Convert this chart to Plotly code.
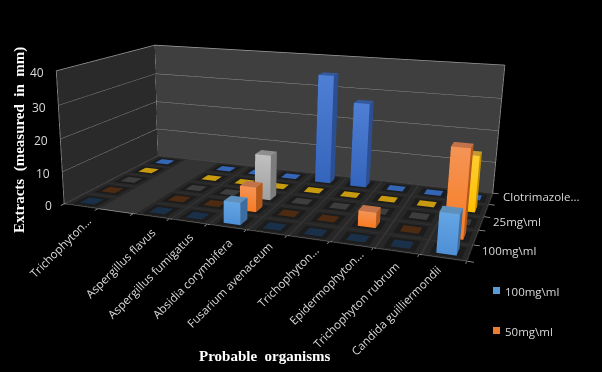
import plotly.graph_objects as go

categories = ["Trichophyton...", "", "Aspergillus flavus", "Aspergillus fumigatus", "Absidia corymbifera",
              "Fusarium avenaceum", "Trichophyton...", "Epidermophyton...", "Trichophyton rubrum", "Candida guilliermondii"]
series_names = ["100mg\\ml", "50mg\\ml", "25mg\\ml", "12.5mg\\ml", "Clotrimazole..."]
values_100 = [0, None, 0, 0, 6.5, 0, 0, 0, 0, 11]
values_50 = [0, None, 0, 0, 7.5, 0, 0, 4.5, 0, 25]
values_25 = [0, None, 0, 0, 14, 0, 0, 0, 0, 0]
values_12 = [0, None, 0, 0, 0, 0, 0, 0, 0, 17]
values_clo = [0, None, 0, 0, 0, 35, 27, 0, 0, 0]
all_values = [values_100, values_50, values_25, values_12, values_clo]
z_ticks = [0, 10, 20, 30, 40]

# The figure is larger than the window and shifted so that the fixed 45-degree
# plotly camera gets the long focal length of the reference's perspective.
W, H = 960, 692
LEFT, TOP = -252, -167
def px(x): return (x - LEFT) / W
def py(y): return 1 - (y - TOP) / H

EYE = (1.072, -3.146, 0.796)
CEN = (0.068, -0.752, 0.025)
UP = (0.026, -0.036, 1)
ASP = (1.6, 0.828, 0.546)
XR, YR, ZR = (-0.2, 10.2), (-0.2, 5.2), (-1, 41)

fig = go.Figure()
light = dict(ambient=1, diffuse=0, specular=0, fresnel=0, roughness=1)
def quad_mesh(xs, ys, zs, color):
    return go.Mesh3d(x=xs, y=ys, z=zs, i=[0, 0], j=[1, 2], k=[2, 3], color=color, flatshading=True,
                     lighting=light, hoverinfo="skip", showlegend=False)

fig.add_trace(quad_mesh([0,0,0,0],[0,5,5,0],[0,0,40,40],"#2a2a2a"))
fig.add_trace(quad_mesh([0,10,10,0],[5,5,5,5],[0,0,40,40],"#3f3f3f"))
fig.add_trace(quad_mesh([0,10,10,0],[0,0,5,5],[0,0,0,0],"#333333"))

lx, ly, lz = [], [], []
def seg(a, b):
    lx.extend([a[0], b[0], None]); ly.extend([a[1], b[1], None]); lz.extend([a[2], b[2], None])
for t in z_ticks:
    seg((0,0,t),(0,5,t)); seg((0,5,t),(10,5,t))
seg((0,0,0),(0,0,40)); seg((0,5,0),(0,5,40)); seg((10,5,0),(10,5,40))
seg((0,0,0),(10,0,0)); seg((10,0,0),(10,5,0))
for i in range(11):
    seg((i,0,0),(i,-0.15,0))
for j in range(6):
    seg((10,j,0),(10.15,j,0))
fig.add_trace(go.Scatter3d(x=lx,y=ly,z=lz,mode="lines",line=dict(color="#a0a0a0",width=1.5),hoverinfo="skip",showlegend=False))

colors = [
 dict(front_top="#64a5e4", front_bot="#4f8fd6", side="#3d6d9e", top="#5f8fbb", flat="#1a3048"),
 dict(front_top="#f49455", front_bot="#f97b22", side="#b4591c", top="#c2734a", flat="#4d2a12"),
 dict(front_top="#c0c0c0", front_bot="#a0a0a0", side="#7c7c7c", top="#8e8e8e", flat="#3d3d3d"),
 dict(front_top="#ffcc30", front_bot="#fdc000", side="#c09000", top="#c49a30", flat="#c79a10"),
 dict(front_top="#4f7fd4", front_bot="#3465bc", side="#2b4f92", top="#355a9c", flat="#3565b5"),
]
halo = [("#272727", 0.26, 0.03), ("#1c1c1c", 0.13, 0.06)]
zflat = 0.1
for r, (vals, col) in enumerate(zip(all_values, colors)):
    X, Y, Z, VC, I, J, K = [], [], [], [], [], [], []
    def face(pts, cs):
        n = len(X)
        for pt, c in zip(pts, cs):
            X.append(pt[0]); Y.append(pt[1]); Z.append(pt[2]); VC.append(c)
        I.extend([n, n]); J.extend([n+1, n+2]); K.extend([n+2, n+3])
    for i, v in enumerate(vals):
        if v is None:
            continue
        x0, x1 = i + 0.33, i + 0.76
        y0, y1 = r + 0.22, r + 0.66
        for hc, pad, hz in halo:
            face([(x0-pad,y0-pad,hz),(x1+pad,y0-pad,hz),(x1+pad,y1+pad,hz),(x0-pad,y1+pad,hz)],[hc]*4)
        if v == 0:
            face([(x0,y0,zflat),(x1,y0,zflat),(x1,y1,zflat),(x0,y1,zflat)],[col["flat"]]*4)
        else:
            face([(x0,y0,0),(x1,y0,0),(x1,y0,v),(x0,y0,v)],[col["front_bot"],col["front_bot"],col["front_top"],col["front_top"]])
            face([(x1,y0,0),(x1,y1,0),(x1,y1,v),(x1,y0,v)],[col["side"]]*4)
            face([(x0,y0,v),(x1,y0,v),(x1,y1,v),(x0,y1,v)],[col["top"]]*4)
            face([(x0,y0,0),(x0,y1,0),(x0,y1,v),(x0,y0,v)],[col["side"]]*4)
    fig.add_trace(go.Mesh3d(x=X,y=Y,z=Z,i=I,j=J,k=K,vertexcolor=VC,flatshading=True,
        lighting=light,hoverinfo="skip",showlegend=False,name=series_names[r]))

ann = []
tf = dict(family="Open Sans", size=11.5, color="#d9d9d9")
label_dx = [5, 0, 0, 0, 0, 0, 4, 5, -4, -10]
label_dy = [-3, -5, -4, -4, -4, -1, 0, 2, -2, 0]
for t in z_ticks:
    ann.append(dict(x=0,y=0,z=t,text=str(t),showarrow=False,xanchor="right",yanchor="middle",xshift=-10,yshift=-2,font=dict(family="Open Sans",size=12,color="#d9d9d9")))
for i, c in enumerate(categories):
    if c:
        ann.append(dict(x=i+0.8,y=0,z=0,text=c,showarrow=False,textangle=-45,xanchor="right",yanchor="top",xshift=label_dx[i],yshift=label_dy[i],font=tf))
for j in (0,2,4):
    ann.append(dict(x=10,y=j+0.5,z=0,text=series_names[j],showarrow=False,xanchor="left",yanchor="middle",xshift=10,yshift=2,font=tf))

serif = dict(family="Liberation Serif", size=15, color="white")
fixed = [
    dict(text="<b>Probable \u00a0organisms</b>",x=px(265),y=py(356),xanchor="center",yanchor="middle",showarrow=False,font=serif),
    dict(text="<b>Extracts \u00a0(measured \u00a0in \u00a0mm)</b>",x=px(19),y=py(140),xanchor="center",yanchor="middle",textangle=-90,showarrow=False,font=serif),
    dict(text=series_names[0],x=px(503),y=py(291),xanchor="left",yanchor="middle",showarrow=False,font=tf),
    dict(text=series_names[1],x=px(503),y=py(331),xanchor="left",yanchor="middle",showarrow=False,font=tf),
]
for a in fixed:
    a.update(xref="paper", yref="paper")
shapes = [
    dict(type="rect",xref="paper",yref="paper",x0=px(493),x1=px(500),y0=py(287),y1=py(294),fillcolor="#5b9bd5",line_width=0),
    dict(type="rect",xref="paper",yref="paper",x0=px(493),x1=px(500),y0=py(327),y1=py(334),fillcolor="#ed7d31",line_width=0),
]

fig.update_layout(
    width=W,height=H,margin=dict(l=0,r=0,t=0,b=0),paper_bgcolor="black",plot_bgcolor="black",showlegend=False,
    scene=dict(domain=dict(x=[0,1],y=[0,1]),bgcolor="black",
        xaxis=dict(visible=False,range=list(XR)),yaxis=dict(visible=False,range=list(YR)),zaxis=dict(visible=False,range=list(ZR)),
        aspectmode="manual",
        aspectratio=dict(x=ASP[0]*(XR[1]-XR[0])/10,y=ASP[1]*(YR[1]-YR[0])/5,z=ASP[2]*(ZR[1]-ZR[0])/40),
        camera=dict(eye=dict(x=EYE[0],y=EYE[1],z=EYE[2]),center=dict(x=CEN[0],y=CEN[1],z=CEN[2]),up=dict(x=UP[0],y=UP[1],z=UP[2]),projection=dict(type="perspective")),
        annotations=ann),
    annotations=fixed, shapes=shapes,
)
js = ("var g=document.getElementById('{plot_id}');g.style.position='absolute';"
      "g.style.left='%dpx';g.style.top='%dpx';"
      "document.body.style.margin='0';document.body.style.overflow='hidden';"
      "document.body.style.background='black';") % (LEFT, TOP)
fig.write_html("out.html", config=dict(displayModeBar=False), post_script=js)
